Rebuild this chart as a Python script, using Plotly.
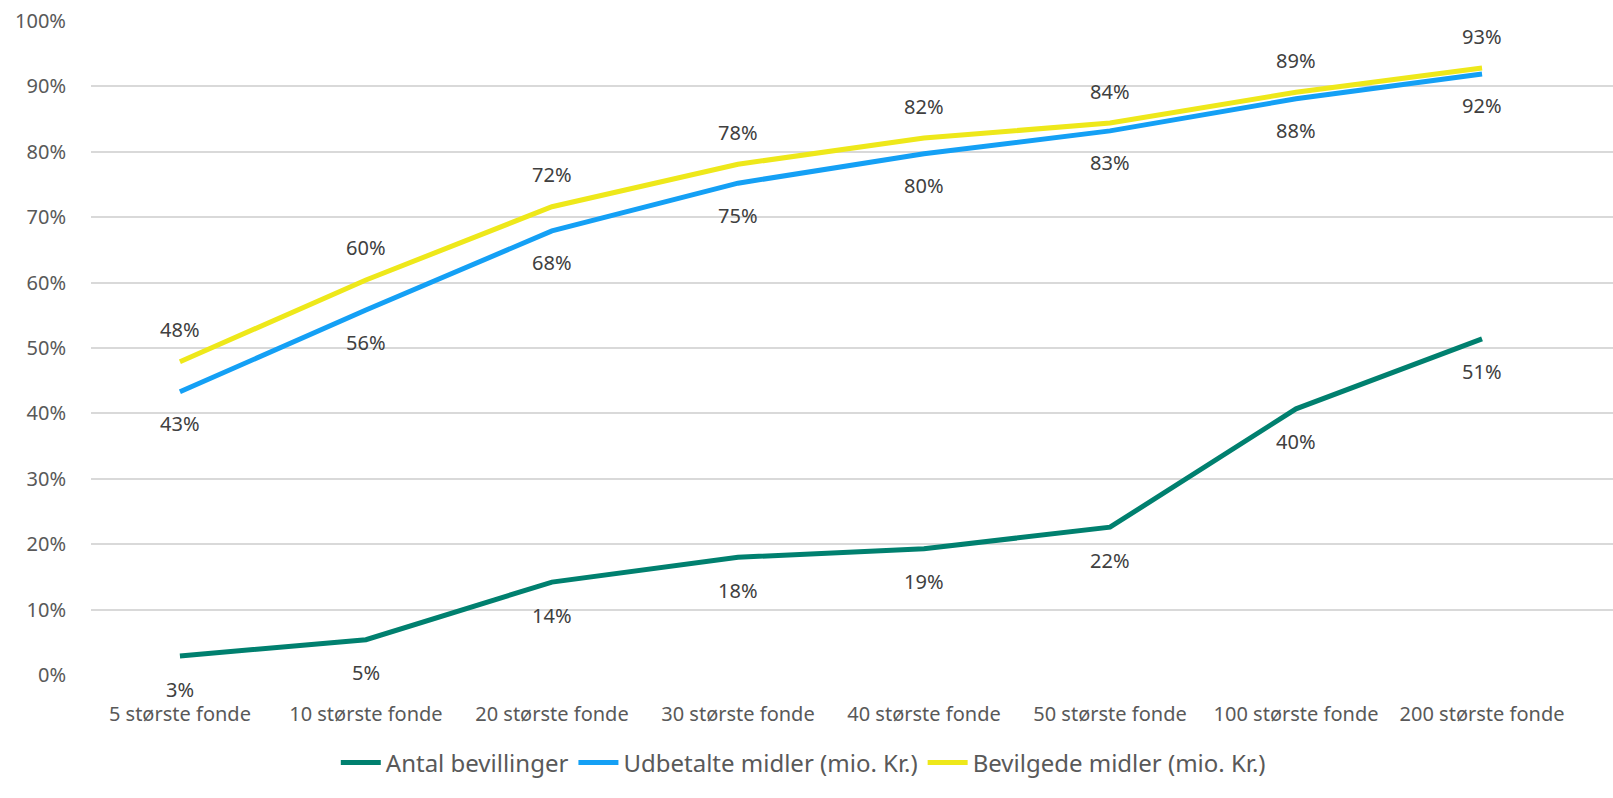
import plotly.graph_objects as go

categories = ["5 største fonde", "10 største fonde", "20 største fonde", "30 største fonde",
              "40 største fonde", "50 største fonde", "100 største fonde", "200 største fonde"]
antal = [0.029, 0.054, 0.142, 0.180, 0.193, 0.226, 0.407, 0.514]
antal_lbl = ["3%", "5%", "14%", "18%", "19%", "22%", "40%", "51%"]
udbetalte = [0.433, 0.558, 0.679, 0.752, 0.797, 0.832, 0.881, 0.919]
udbetalte_lbl = ["43%", "56%", "68%", "75%", "80%", "83%", "88%", "92%"]
bevilgede = [0.479, 0.604, 0.716, 0.781, 0.821, 0.844, 0.891, 0.928]
bevilgede_lbl = ["48%", "60%", "72%", "78%", "82%", "84%", "89%", "93%"]
y_ticks = [0, 0.1, 0.2, 0.3, 0.4, 0.5, 0.6, 0.7, 0.8, 0.9, 1.0]

FONT = "Noto Sans"
series = [
    ("Antal bevillinger", antal, antal_lbl, "#00806F", -33),
    ("Udbetalte midler (mio. Kr.)", udbetalte, udbetalte_lbl, "#14A0F5", -32),
    ("Bevilgede midler (mio. Kr.)", bevilgede, bevilgede_lbl, "#EEE81A", 32),
]

fig = go.Figure()
annotations = []
xs = list(range(len(categories)))
for name, vals, lbls, color, shift in series:
    fig.add_trace(go.Scatter(x=xs, y=vals, mode="lines", name=name,
                             line=dict(color=color, width=5)))
    for xi, v, t in zip(xs, vals, lbls):
        annotations.append(dict(x=xi, y=v, text=t, showarrow=False, yshift=shift,
                                font=dict(family=FONT, size=20, color="#404040")))

fig.update_layout(
    width=1613, height=798,
    margin=dict(l=91, r=0, t=21, b=123, autoexpand=False),
    paper_bgcolor="white", plot_bgcolor="white",
    font=dict(family=FONT, size=20, color="#595959"),
    annotations=annotations,
    showlegend=True,
    legend=dict(orientation="h", x=0.468, xanchor="center", y=-0.10, yanchor="top",
                font=dict(family=FONT, size=24, color="#595959"), itemwidth=40,
                tracegroupgap=0),
    xaxis=dict(range=[-0.478, 7.704], tickmode="array", tickvals=xs, ticktext=categories,
               showgrid=False, zeroline=False, showline=False, ticks="",
               automargin=False, ticklabelstandoff=25,
               tickfont=dict(family=FONT, size=20, color="#595959")),
    yaxis=dict(range=[0, 1.0], tickmode="array", tickvals=y_ticks,
               ticktext=[f"{int(round(v*100))}%" for v in y_ticks],
               showgrid=True, gridcolor="#D9D9D9", gridwidth=1.5, zeroline=False,
               showline=False, ticks="", ticklabelstandoff=24, automargin=False,
               tickfont=dict(family=FONT, size=20, color="#595959")),
)
fig.write_html("out.html", config={"displayModeBar": False},
               post_script="document.body.style.margin='0';")
